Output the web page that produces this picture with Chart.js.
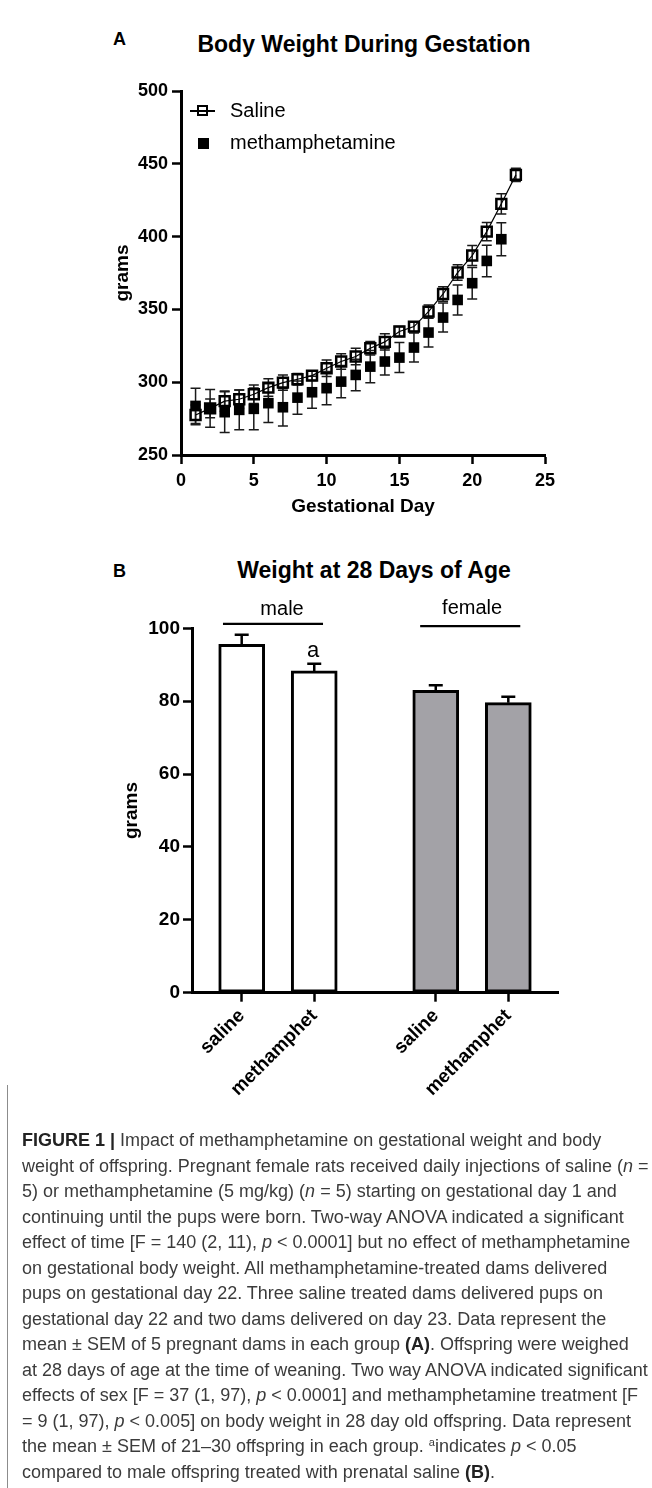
<!DOCTYPE html>
<html lang="en">
<head>
<meta charset="UTF-8">
<title>Figure 1 - Gestational and offspring body weight</title>
<script src="https://cdn.jsdelivr.net/npm/chart.js"></script>
<style>
    body {
        margin: 0;
        background: #fff;
        font-family: "Liberation Sans", Arial, sans-serif;
        color: #000;
    }
    .page {
        position: relative;
        width: 652px;
        height: 1488px;
        overflow: hidden;
    }
    canvas { position: absolute; left: 0; }
    #chartA { top: 0; }
    #chartB { top: 540px; }
    .panel-letter {
        position: absolute;
        font-weight: bold;
        font-size: 18px;
        line-height: 1;
    }
    .panel-title {
        position: absolute;
        width: 652px;
        text-align: center;
        font-weight: bold;
        font-size: 23px;
        line-height: 1;
    }
    /* legend for panel A */
    .legend-text {
        position: absolute;
        left: 230px;
        font-size: 20px;
        line-height: 1;
    }
    .sym-line {
        position: absolute;
        left: 190px;
        top: 110.4px;
        width: 25px;
        height: 1.2px;
        background: #000;
    }
    .sym-open {
        position: absolute;
        left: 197px;
        top: 105px;
        width: 7px;
        height: 7px;
        border: 2.5px solid #000;
    }
    .sym-filled {
        position: absolute;
        left: 198px;
        top: 138px;
        width: 10.5px;
        height: 10.5px;
        background: #000;
    }
    /* caption */
    .caption {
        position: absolute;
        left: 7px;
        top: 1085px;
        bottom: 0;
        width: 640px;
        border-left: 1.5px solid #8c8c8c;
    }
    .caption-text {
        position: absolute;
        left: 14px;
        top: 43px;
        font-family: "Liberation Sans Narrow", "Liberation Sans", Arial, sans-serif;
        font-size: 18px;
        line-height: 25.5px;
        color: #3b3b3b;
        white-space: nowrap;
    }
    .caption-text div { height: 25.5px; }
    .caption-text b { color: #222; }
    .caption-text sup { font-size: 11px; line-height: 0; vertical-align: 6px; }
</style>
</head>
<body>
<div class="page">
    <div class="panel-letter" style="left:113px; top:30px;">A</div>
    <div class="panel-title" style="left:38px; top:32.5px;">Body Weight During Gestation</div>

    <canvas id="chartA" width="652" height="518"></canvas>

    <!-- legend sits inside the plot area, top left -->
    <div class="sym-line"></div>
    <div class="sym-open"></div>
    <div class="legend-text" style="top:100px;">Saline</div>
    <div class="sym-filled"></div>
    <div class="legend-text" style="top:132px;">methamphetamine</div>

    <div class="panel-letter" style="left:113px; top:562px;">B</div>
    <div class="panel-title" style="left:48px; top:558.5px;">Weight at 28 Days of Age</div>

    <canvas id="chartB" width="652" height="570"></canvas>

    <div class="caption">
        <div class="caption-text">
            <div><b>FIGURE 1 |</b> Impact of methamphetamine on gestational weight and body</div>
            <div>weight of offspring. Pregnant female rats received daily injections of saline (<i>n</i> =</div>
            <div>5) or methamphetamine (5 mg/kg) (<i>n</i> = 5) starting on gestational day 1 and</div>
            <div>continuing until the pups were born. Two-way ANOVA indicated a significant</div>
            <div>effect of time [F = 140 (2, 11), <i>p</i> &lt; 0.0001] but no effect of methamphetamine</div>
            <div>on gestational body weight. All methamphetamine-treated dams delivered</div>
            <div>pups on gestational day 22. Three saline treated dams delivered pups on</div>
            <div>gestational day 22 and two dams delivered on day 23. Data represent the</div>
            <div>mean &plusmn; SEM of 5 pregnant dams in each group <b>(A)</b>. Offspring were weighed</div>
            <div>at 28 days of age at the time of weaning. Two way ANOVA indicated significant</div>
            <div>effects of sex [F = 37 (1, 97), <i>p</i> &lt; 0.0001] and methamphetamine treatment [F</div>
            <div>= 9 (1, 97), <i>p</i> &lt; 0.005] on body weight in 28 day old offspring. Data represent</div>
            <div>the mean &plusmn; SEM of 21&ndash;30 offspring in each group. <sup>a</sup>indicates <i>p</i> &lt; 0.05</div>
            <div>compared to male offspring treated with prenatal saline <b>(B)</b>.</div>
        </div>
    </div>
</div>

<script>
    // ---- Panel A data: dam body weight (g) by gestational day, mean and SEM ----
    const gestDays = [1, 2, 3, 4, 5, 6, 7, 8, 9, 10, 11, 12, 13, 14, 15, 16, 17, 18, 19, 20, 21, 22, 23];
    const salineMean = [277.5, 282, 287, 288.3, 291.7, 296.3, 299.7, 302, 304.5, 309.6, 314.2, 317.6,
                        323.3, 327.7, 334.8, 338.2, 348.5, 360.6, 375.3, 387, 403.4, 422.5, 442.4];
    const salineSem = [6.8, 6.5, 7, 6.4, 6.4, 6, 5.3, 4, 3.4, 5.7, 5.3, 5.7,
                       4.6, 5.5, 3.4, 3.4, 4.6, 5, 5.3, 6.9, 6.2, 6.9, 4.6];
    // methamphetamine dams all delivered on day 22, so no day 23 value
    const methMean = [283.7, 282, 279.4, 281, 281.7, 285.6, 282.8, 289.4, 293.1, 295.9, 300.4, 305,
                      310.7, 314.2, 316.9, 323.8, 334.1, 344.4, 356.5, 368, 383.3, 398.2];
    const methSem = [12.1, 13, 14, 13.7, 14.4, 13.3, 12.8, 11.4, 11, 11.4, 11, 10.8,
                     11, 9.2, 10.3, 10, 10, 10, 10.3, 10.8, 10.8, 11.3];

    // ---- Panel B data: offspring weight (g) at 28 days ----
    const treatmentLabels = ['saline', 'methamphet', 'saline', 'methamphet'];
    const barPos = [1, 2, 3.675, 4.675];          // male pair, then female pair
    const offspringMean = [95.6, 88.3, 83.0, 79.6];
    const offspringSem = [2.6, 2.0, 1.4, 1.6];
    const barFill = ['#ffffff', '#ffffff', '#a3a2a7', '#a3a2a7'];

    const FONT = '"Liberation Sans", Arial, sans-serif';

    // Draws mean +/- SEM whiskers from each dataset's "errors" array.
    const errorBars = {
        id: 'errorBars',
        beforeDatasetsDraw(chart, args, opts) {
            if (!opts.after) this.draw(chart, opts);
        },
        afterDatasetsDraw(chart, args, opts) {
            if (opts.after) this.draw(chart, opts);
        },
        draw(chart, opts) {
            const ctx = chart.ctx;
            const yScale = chart.scales.y;
            // draw later datasets first so the first one ends up on top
            for (let i = chart.data.datasets.length - 1; i >= 0; i--) {
                const ds = chart.data.datasets[i];
                if (!ds.errors) continue;
                const meta = chart.getDatasetMeta(i);
                ctx.save();
                ctx.strokeStyle = opts.color;
                ctx.lineWidth = opts.width;
                meta.data.forEach((el, j) => {
                    const val = ds.data[j].y;
                    const err = ds.errors[j];
                    const top = yScale.getPixelForValue(val + err);
                    const bottom = opts.upOnly ? el.y : yScale.getPixelForValue(val - err);
                    const half = opts.cap / 2;
                    ctx.beginPath();
                    ctx.moveTo(el.x, top);
                    ctx.lineTo(el.x, bottom);
                    ctx.moveTo(el.x - half, top);
                    ctx.lineTo(el.x + half, top);
                    if (!opts.upOnly) {
                        ctx.moveTo(el.x - half, bottom);
                        ctx.lineTo(el.x + half, bottom);
                    }
                    ctx.stroke();
                });
                ctx.restore();
            }
        }
    };

    // Group brackets ("male", "female") and the significance letter above panel B bars.
    const groupMarks = {
        id: 'groupMarks',
        afterDraw(chart, args, opts) {
            const ctx = chart.ctx;
            const xs = chart.scales.x, ys = chart.scales.y;
            ctx.save();
            ctx.fillStyle = '#000';
            ctx.strokeStyle = '#000';
            ctx.textAlign = 'center';
            ctx.textBaseline = 'alphabetic';
            opts.groups.forEach(g => {
                ctx.lineWidth = 2.2;
                ctx.beginPath();
                const ly = ys.getPixelForValue(g.lineAt);
                ctx.moveTo(xs.getPixelForValue(g.from), ly);
                ctx.lineTo(xs.getPixelForValue(g.to), ly);
                ctx.stroke();
                ctx.font = '20px ' + FONT;
                ctx.fillText(g.text, xs.getPixelForValue(g.textX), ys.getPixelForValue(g.textAt));
            });
            opts.letters.forEach(l => {
                ctx.font = '22px ' + FONT;
                ctx.fillText(l.text, xs.getPixelForValue(l.x), ys.getPixelForValue(l.at));
            });
            ctx.restore();
        }
    };

    function axisOpts(extra) {
        return Object.assign({
            offset: false,
            grid: { offset: false, drawOnChartArea: false, drawTicks: true, tickLength: 9, tickWidth: 2.5, tickColor: '#000' },
            border: { display: true, color: '#000', width: 3 }
        }, extra);
    }

    // ---- Panel A: line/scatter with error bars ----
    new Chart(document.getElementById('chartA'), {
        type: 'line',
        data: {
            datasets: [
                {
                    label: 'Saline',
                    data: gestDays.map((d, i) => ({ x: d, y: salineMean[i] })),
                    errors: salineSem,
                    borderColor: '#000',
                    borderWidth: 1.2,
                    tension: 0,
                    pointStyle: 'rect',
                    pointRadius: 7,
                    pointBorderWidth: 2.5,
                    pointBorderColor: '#000',
                    pointBackgroundColor: 'rgba(255,255,255,0)'
                },
                {
                    label: 'methamphetamine',
                    data: methMean.map((v, i) => ({ x: gestDays[i], y: v })),
                    errors: methSem,
                    showLine: false,
                    pointStyle: 'rect',
                    pointRadius: 7.5,
                    pointBorderWidth: 0,
                    pointBackgroundColor: '#000',
                    pointBorderColor: '#000'
                }
            ]
        },
        options: {
            responsive: false,
            animation: false,
            layout: { padding: { left: 111, top: 91, right: 107, bottom: 0 } },
            plugins: {
                legend: { display: false },
                tooltip: { enabled: false },
                errorBars: { color: '#1a1a1a', width: 1.5, cap: 10, after: false }
            },
            scales: {
                x: axisOpts({
                    type: 'linear',
                    min: 0,
                    max: 25,
                    ticks: { stepSize: 5, color: '#000', padding: 6, font: { family: FONT, size: 18, weight: 'bold' } },
                    title: { display: true, text: 'Gestational Day', color: '#000', padding: 0,
                             font: { family: FONT, size: 19, weight: 'bold' } },
                    afterFit(scale) { scale.height = 63; }
                }),
                y: axisOpts({
                    min: 250,
                    max: 500,
                    ticks: { stepSize: 50, color: '#000', padding: 4, font: { family: FONT, size: 18, weight: 'bold' } },
                    title: { display: true, text: 'grams', color: '#000', padding: 0,
                             font: { family: FONT, size: 19, weight: 'bold' } },
                    afterFit(scale) { scale.width = 70; }
                })
            }
        },
        plugins: [errorBars]
    });

    // ---- Panel B: bar chart on a linear x scale so the two sex groups sit apart ----
    new Chart(document.getElementById('chartB'), {
        type: 'bar',
        data: {
            datasets: [{
                data: barPos.map((x, i) => ({ x: x, y: offspringMean[i] })),
                errors: offspringSem,
                backgroundColor: barFill,
                borderColor: '#000',
                borderWidth: 3,
                borderSkipped: false,
                barThickness: 46
            }]
        },
        options: {
            responsive: false,
            animation: false,
            layout: { padding: { left: 120, top: 88.3, right: 94, bottom: 0 } },
            plugins: {
                legend: { display: false },
                tooltip: { enabled: false },
                errorBars: { color: '#000', width: 2.5, cap: 14, upOnly: true, after: true },
                groupMarks: {
                    groups: [
                        { text: 'male', from: 0.742, to: 2.121, lineAt: 101.2, textX: 1.556, textAt: 103.6 },
                        { text: 'female', from: 3.46, to: 4.84, lineAt: 100.6, textX: 4.176, textAt: 103.9 }
                    ],
                    letters: [{ text: 'a', x: 1.984, at: 92.2 }]
                }
            },
            scales: {
                x: axisOpts({
                    type: 'linear',
                    min: 0.315,
                    max: 5.36,
                    afterBuildTicks(scale) { scale.ticks = barPos.map(v => ({ value: v })); },
                    ticks: {
                        callback: (v, i) => treatmentLabels[i],
                        autoSkip: false,
                        minRotation: 45,
                        maxRotation: 45,
                        color: '#000',
                        padding: 3,
                        font: { family: FONT, size: 19, weight: 'bold' }
                    },
                    afterFit(scale) { scale.height = 117.3; }
                }),
                y: axisOpts({
                    min: 0,
                    max: 100,
                    ticks: { stepSize: 20, color: '#000', padding: 3, font: { family: FONT, size: 19, weight: 'bold' } },
                    title: { display: true, text: 'grams', color: '#000', padding: 0,
                             font: { family: FONT, size: 19, weight: 'bold' } },
                    afterFit(scale) { scale.width = 72; }
                })
            }
        },
        plugins: [errorBars, groupMarks]
    });
</script>
</body>
</html>
